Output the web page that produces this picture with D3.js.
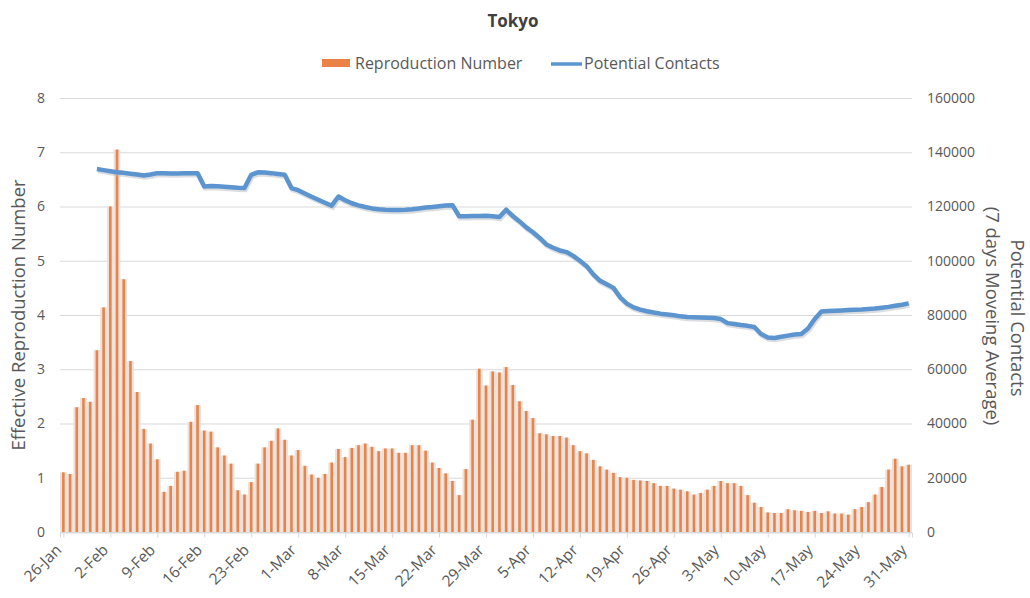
<!DOCTYPE html>
<html>
<head>
<meta charset="utf-8">
<script src="https://cdn.jsdelivr.net/npm/d3@7"></script>
<style>
  body { margin: 0; background: #fff; }
  text { font-family: "Open Sans", "Noto Sans", sans-serif; fill: #595959; }
</style>
</head>
<body>
<script>

// dage fra 26-Jan til 31-May (2020), en søjle pr. dag
var tickLabels = ["26-Jan", "2-Feb", "9-Feb", "16-Feb", "23-Feb", "1-Mar", "8-Mar", "15-Mar",
    "22-Mar", "29-Mar", "5-Apr", "12-Apr", "19-Apr", "26-Apr", "3-May", "10-May", "17-May",
    "24-May", "31-May"];

var leftTicks = [0, 1, 2, 3, 4, 5, 6, 7, 8];
var rightTicks = [0, 20000, 40000, 60000, 80000, 100000, 120000, 140000, 160000];

// Reproduction Number
var reproNumber = [
    1.10, 1.07, 2.30, 2.47, 2.40, 3.35, 4.14, 6.00, 7.05, 4.66,
    3.15, 2.58, 1.90, 1.63, 1.34, 0.74, 0.85, 1.11, 1.13, 2.03,
    2.34, 1.87, 1.85, 1.56, 1.41, 1.26, 0.77, 0.69, 0.92, 1.26,
    1.56, 1.68, 1.91, 1.70, 1.41, 1.51, 1.22, 1.06, 1.00, 1.07,
    1.28, 1.53, 1.38, 1.55, 1.60, 1.63, 1.57, 1.49, 1.54, 1.54,
    1.46, 1.46, 1.60, 1.60, 1.50, 1.28, 1.18, 1.08, 0.94, 0.68,
    1.16, 2.07, 3.01, 2.70, 2.96, 2.94, 3.04, 2.71, 2.41, 2.23,
    2.10, 1.82, 1.80, 1.77, 1.77, 1.74, 1.60, 1.49, 1.45, 1.33,
    1.21, 1.15, 1.09, 1.01, 1.00, 0.96, 0.95, 0.94, 0.90, 0.85,
    0.85, 0.80, 0.78, 0.75, 0.69, 0.72, 0.78, 0.85, 0.94, 0.90,
    0.90, 0.85, 0.68, 0.54, 0.46, 0.36, 0.35, 0.35, 0.42, 0.40,
    0.39, 0.37, 0.39, 0.35, 0.38, 0.34, 0.34, 0.32, 0.42, 0.46,
    0.55, 0.69, 0.83, 1.15, 1.35, 1.21, 1.24];

// Potential Contacts (7 dages glidende gennemsnit), starter 31-Jan
var contactsStart = 5;
var contacts = [
    133800, 133400, 133000, 132600, 132400, 132100, 131800, 131400, 131800, 132300,
    132300, 132200, 132200, 132300, 132300, 132300, 127400, 127600, 127500, 127300,
    127100, 126900, 126800, 131700, 132600, 132500, 132300, 132000, 131700, 126800,
    126000, 124800, 123600, 122500, 121400, 120300, 123700, 122300, 121200, 120400,
    119800, 119300, 119000, 118800, 118700, 118700, 118800, 119000, 119300, 119600,
    119800, 120100, 120400, 120500, 116400, 116400, 116500, 116500, 116600, 116400,
    116100, 118800, 116500, 114500, 112300, 110500, 108400, 106000, 104800, 103800,
    103200, 101800, 100000, 98000, 95000, 92600, 91300, 90000, 86500, 84200,
    82800, 82000, 81400, 80900, 80500, 80200, 79900, 79500, 79300, 79200,
    79100, 79000, 78900, 78500, 77000, 76700, 76300, 76000, 75600, 73000,
    71700, 71500, 72000, 72400, 72800, 73000, 75000, 78500, 81300, 81500,
    81600, 81700, 81800, 81900, 82000, 82200, 82400, 82700, 83000, 83400,
    83800, 84300];

d3.select(window).on('load', init);

function init() {

    var w = 1030;
    var h = 598;

    var left = 60, right = 912, top = 98, bottom = 532;

    var svg = d3.select('body')
        .append('svg')
        .attr("width", w)
        .attr("height", h);

    var nDays = reproNumber.length;

    var xScale = d3.scaleLinear()
        .domain([-0.5, nDays - 0.5])
        .range([left, right]);

    var yLeft = d3.scaleLinear()
        .domain([0, 8])
        .range([bottom, top]);

    var yRight = d3.scaleLinear()
        .domain([0, 160000])
        .range([bottom, top]);

    var dayW = xScale(1) - xScale(0);

    // gitterlinjer
    svg.append("g")
        .selectAll("line")
        .data(leftTicks)
        .enter()
        .append("line")
        .attr("x1", left)
        .attr("x2", right)
        .attr("y1", function(d){ return yLeft(d) + 0.5; })
        .attr("y2", function(d){ return yLeft(d) + 0.5; })
        .attr("stroke", "#d9d9d9")
        .attr("stroke-width", 1);

    // lys skygge bag søjlerne
    svg.append("g")
        .selectAll("rect")
        .data(reproNumber)
        .enter()
        .append("rect")
        .attr("x", function(d, i){ return xScale(i) - dayW / 2; })
        .attr("y", function(d){ return yLeft(d); })
        .attr("width", dayW)
        .attr("height", function(d){ return bottom - yLeft(d); })
        .attr("fill", "#e9e2de");

    svg.append("g")
        .selectAll("rect")
        .data(reproNumber)
        .enter()
        .append("rect")
        .attr("x", function(d, i){ return xScale(i) - 1.3; })
        .attr("y", function(d){ return yLeft(d); })
        .attr("width", 2.6)
        .attr("height", function(d){ return bottom - yLeft(d); })
        .attr("fill", "#ec8346");

    // x-akse, teksten tegnes selv bagefter
    var dayIndex = tickLabels.map(function(d, i){ return i * 7; });

    var xAxis = d3.axisBottom()
        .scale(xScale)
        .tickValues(dayIndex)
        .tickSize(5)
        .tickFormat("");

    var gx = svg.append("g")
        .attr("transform", "translate(0," + (bottom + 0.5) + ")")
        .call(xAxis);
    gx.select(".domain").attr("stroke", "#d9d9d9");
    gx.selectAll(".tick line").attr("stroke", "#d9d9d9");

    svg.append("g")
        .selectAll("text")
        .data(dayIndex)
        .enter()
        .append("text")
        .attr("transform", function(d){
            return "translate(" + (xScale(d) - 1) + "," + (bottom + 19) + ") rotate(-45)";
        })
        .attr("text-anchor", "end")
        .attr("font-size", 15.5)
        .text(function(d, i){ return tickLabels[i]; });

    // linjen med lidt skygge
    var line = d3.line()
        .x(function(d, i){ return xScale(i + contactsStart); })
        .y(function(d){ return yRight(d); });

    svg.append("path")
        .datum(contacts)
        .attr("d", line)
        .attr("fill", "none")
        .attr("stroke", "#b8bcc2")
        .attr("stroke-width", 4.5)
        .attr("opacity", 0.5)
        .attr("transform", "translate(1,2)");

    svg.append("path")
        .datum(contacts)
        .attr("d", line)
        .attr("fill", "none")
        .attr("stroke", "#5b94cf")
        .attr("stroke-width", 4.5)
        .attr("stroke-linejoin", "round");

    // y-akser tekst
    svg.append("g")
        .selectAll("text")
        .data(leftTicks)
        .enter()
        .append("text")
        .attr("x", 45)
        .attr("y", function(d){ return yLeft(d); })
        .attr("dy", "0.35em")
        .attr("text-anchor", "end")
        .attr("font-size", 14)
        .text(function(d){ return d; });

    svg.append("g")
        .selectAll("text")
        .data(rightTicks)
        .enter()
        .append("text")
        .attr("x", 927)
        .attr("y", function(d){ return yRight(d); })
        .attr("dy", "0.35em")
        .attr("text-anchor", "start")
        .attr("font-size", 14)
        .text(function(d){ return d; });

    // titler
    svg.append("text")
        .attr("x", 513)
        .attr("y", 27)
        .attr("text-anchor", "middle")
        .attr("font-size", 17)
        .attr("font-weight", "bold")
        .style("fill", "#404040")
        .text("Tokyo");

    svg.append("text")
        .attr("transform", "translate(25,315) rotate(-90)")
        .attr("text-anchor", "middle")
        .attr("font-size", 18.5)
        .text("Effective Reproduction Number");

    svg.append("text")
        .attr("transform", "translate(1011,318) rotate(90)")
        .attr("text-anchor", "middle")
        .attr("font-size", 18.5)
        .text("Potential Contacts");

    svg.append("text")
        .attr("transform", "translate(986,316) rotate(90)")
        .attr("text-anchor", "middle")
        .attr("font-size", 18.5)
        .text("(7 days Moveing Average)");

    // legende
    svg.append("rect")
        .attr("x", 322)
        .attr("y", 59)
        .attr("width", 28)
        .attr("height", 8)
        .attr("fill", "#ec8346");

    svg.append("text")
        .attr("x", 355)
        .attr("y", 69)
        .attr("font-size", 16)
        .text("Reproduction Number");

    svg.append("line")
        .attr("x1", 551)
        .attr("x2", 582)
        .attr("y1", 64)
        .attr("y2", 64)
        .attr("stroke", "#5b94cf")
        .attr("stroke-width", 3.5);

    svg.append("text")
        .attr("x", 584)
        .attr("y", 69)
        .attr("font-size", 16)
        .text("Potential Contacts");
}
</script>
</body>
</html>
